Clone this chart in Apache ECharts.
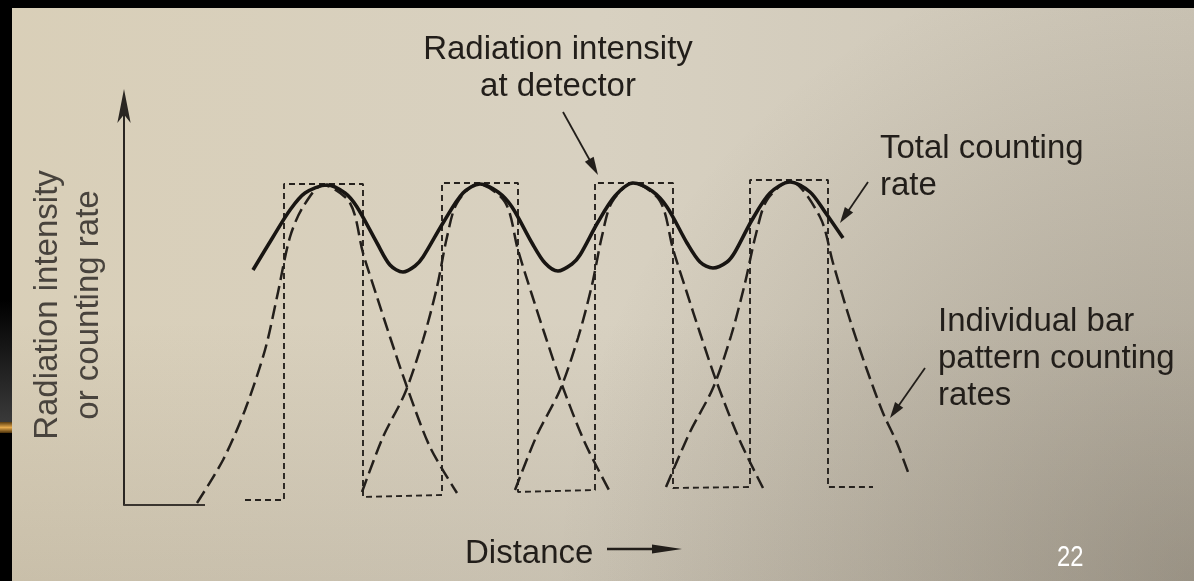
<!DOCTYPE html>
<html>
<head>
<meta charset="utf-8">
<script src="https://cdn.jsdelivr.net/npm/echarts@6/dist/echarts.min.js"></script>
<style>
  html, body { margin: 0; padding: 0; }
  #chart {
    position: absolute; left: 0; top: 0; width: 1194px; height: 581px;
    background:
      radial-gradient(circle at 100% 100%, rgba(70,62,50,0.30) 0%, rgba(70,62,50,0) 48%),
      linear-gradient(to bottom, rgba(0,0,0,0) 55%, rgba(60,50,40,0.10) 100%),
      linear-gradient(to right, #d9cfb8 0%, #d8d1c1 50%, #ccc5b6 100%);
  }
</style>
</head>
<body>
<div id="chart"></div>
<script>
// ---- data (distance units 0..100, intensity units 0..100) ----
const baseLine = [[0, 0], [8.1, 0]];

// bar pattern (dashed square wave)
const barLeft  = [16.0, 31.8, 47.1, 62.6];
const barRight = [23.9, 39.4, 54.9, 70.4];
const barTop   = [80.25, 80.5, 80.5, 81.25];
const floorBefore = [1.25, 2.5, 3.75, 4.5];
const floorAfter  = [2.0, 3.25, 4.25, 4.5];
const patternStart = [12.1, 1.25];
const patternEnd   = [74.9, 4.5];

// individual bar pattern counting rates (long dashed)
const bar1Rate = [[7.3,0.5],[9.9,11.25],[12.1,23.75],[14.1,38.75],[15.3,52],[16.6,67],[17.9,74.5],[19.9,80],
  [22.6,75.5],[23.9,63],[25.3,52],[26.6,42],[28.3,29.5],[30.6,14.5],[33.3,3]];
const bar2Rate = [[23.8,3.25],[25.9,17],[28.1,28],[29.9,41.25],[31.3,54.5],[32.3,67],[33.3,75.5],[35.4,80.25],
  [38.1,75.75],[39.4,63.75],[40.8,52.5],[42.1,42.5],[43.8,30],[46.1,15.5],[48.5,3.75]];
const bar3Rate = [[39.1,3.75],[41.3,17.5],[43.6,28.75],[45.4,41.75],[46.8,55],[47.8,67.25],[48.8,75.75],[50.9,80.5],
  [53.6,76],[54.9,64],[56.3,53],[57.6,43],[59.3,30.5],[61.6,16],[63.9,4.25]];
const bar4Rate = [[54.2,4.5],[56.6,18.25],[58.9,29.25],[60.7,42.25],[62.1,55.5],[63.2,67.75],[64.3,76.25],[66.6,81],
  [69.6,72],[70.9,60.5],[72.6,46.25],[74.3,33.75],[75.9,23],[77.3,15.5],[78.4,8.25]];

// total counting rate (solid)
const totalRate = [[12.9,58.75],[14.9,67],[16.6,73.75],[18.1,78],[20.3,80],[22.1,78],[23.3,74.5],[25.3,65.5],
  [26.6,60],[27.9,58.25],[29.1,59.75],[29.9,62],[31.9,70.5],[33.9,78],[35.6,80.25],[37.4,78.25],[38.8,74.5],
  [40.8,65.5],[42.1,60.5],[43.4,58.5],[44.8,60.25],[45.6,62.5],[47.4,70.75],[49.1,77.25],[50.9,80.5],[52.8,78.5],
  [54.3,74.5],[56.3,65.5],[57.6,60.75],[58.9,59.25],[60.3,60.75],[61.1,63.25],[62.8,71.25],[64.6,78],[66.6,80.75],
  [68.6,78.25],[70.1,73.25],[71.9,66.75]];

const yTitle = 'Radiation intensity\nor counting rate';
const noteDetector = 'Radiation intensity\nat detector';
const noteTotal = 'Total counting\nrate';
const noteIndividual = 'Individual bar\npattern counting\nrates';
const xTitle = 'Distance';
const pageNo = '22';

// build square wave from bar edges
const pattern = [patternStart];
for (let i = 0; i < barLeft.length; i++) {
  pattern.push([barLeft[i], floorBefore[i]], [barLeft[i], barTop[i]], [barRight[i], barTop[i]], [barRight[i], floorAfter[i]]);
}
pattern.push(patternEnd);

const FONT = '"Liberation Sans", Arial, Helvetica, sans-serif';
const INK = '#221e1a';

function dashed(data) {
  return { type: 'line', data, showSymbol: false, smooth: 0.3, clip: false, z: 3,
    lineStyle: { color: '#231f1b', width: 2.5, type: [14, 6] } };
}

function arrow(x1, y1, x2, y2, head, half, w) {
  const dx = x2 - x1, dy = y2 - y1, L = Math.hypot(dx, dy);
  const ux = dx / L, uy = dy / L;
  const bx = x2 - ux * head, by = y2 - uy * head;
  const px = -uy * half, py = ux * half;
  return [
    { type: 'line', shape: { x1, y1, x2: bx + ux * 2, y2: by + uy * 2 }, style: { stroke: INK, lineWidth: w } },
    { type: 'polygon', shape: { points: [[x2, y2], [bx + px, by + py], [bx - px, by - py]] }, style: { fill: INK } }
  ];
}

function label(text, x, y, size, align, color, extra) {
  return Object.assign({ type: 'text', x, y, style: {
    text, font: size + 'px ' + FONT, fill: color || INK, lineHeight: Math.round(size * 1.12),
    textAlign: align, align: align, textVerticalAlign: 'top', verticalAlign: 'top' } }, extra || {});
}

const chart = echarts.init(document.getElementById('chart'), null, { renderer: 'canvas' });
chart.setOption({
  animation: false,
  backgroundColor: 'transparent',
  grid: { left: 124, right: 70, top: 105, bottom: 76 },
  xAxis: { type: 'value', min: 0, max: 100, show: false },
  yAxis: {
    type: 'value', min: 0, max: 100,
    axisLine: { show: true, symbol: ['none', 'arrow'], symbolSize: [10, 34], symbolOffset: [0, 16],
      lineStyle: { color: '#2a2622', width: 2 } },
    axisTick: { show: false }, axisLabel: { show: false }, splitLine: { show: false },
    name: yTitle, nameLocation: 'middle', nameRotate: 90, nameGap: 15,
    nameTextStyle: { fontFamily: 'Liberation Sans', fontSize: 33, lineHeight: 41, color: '#48433d', align: 'center' }
  },
  series: [
    { type: 'line', data: baseLine, showSymbol: false, clip: false, z: 2,
      lineStyle: { color: '#3a352f', width: 2 } },
    { type: 'line', data: pattern, showSymbol: false, clip: false, z: 2,
      lineStyle: { color: '#26221e', width: 1.9, type: [6, 4] } },
    dashed(bar1Rate), dashed(bar2Rate), dashed(bar3Rate), dashed(bar4Rate),
    { type: 'line', data: totalRate, showSymbol: false, smooth: 0.3, clip: false, z: 5,
      lineStyle: { color: '#181512', width: 3.6 } }
  ],
  graphic: [
    { type: 'rect', shape: { x: 0, y: 0, width: 1194, height: 8 }, style: { fill: '#000' } },
    { type: 'rect', shape: { x: 0, y: 0, width: 12, height: 581 }, style: { fill: '#000' } },
    { type: 'rect', shape: { x: 0, y: 300, width: 12, height: 123 },
      style: { fill: new echarts.graphic.LinearGradient(0, 0, 0, 1, [
        { offset: 0, color: '#000000' }, { offset: 1, color: '#3a3a3a' }]) } },
    { type: 'rect', shape: { x: 0, y: 422, width: 12, height: 11 },
      style: { fill: new echarts.graphic.LinearGradient(0, 0, 0, 1, [
        { offset: 0, color: '#5a3c10' }, { offset: 0.5, color: '#e6aa4c' }, { offset: 1, color: '#4a300a' }]) } },
    label(noteDetector, 558, 31, 33, 'center'),
    label(noteTotal, 880, 130, 33, 'left'),
    label(noteIndividual, 938, 303, 33, 'left'),
    label(xTitle, 465, 535, 33, 'left'),
    label(pageNo, 1057, 542, 29, 'left', '#ffffff', { scaleX: 0.82 }),
    ...arrow(563, 112, 598, 175, 18, 5, 1.8),
    ...arrow(868, 182, 840, 223, 16, 5, 1.8),
    ...arrow(925, 368, 890, 418, 16, 5, 1.8),
    ...arrow(607, 549, 682, 549, 30, 4.5, 2.5)
  ]
});
</script>
</body>
</html>
